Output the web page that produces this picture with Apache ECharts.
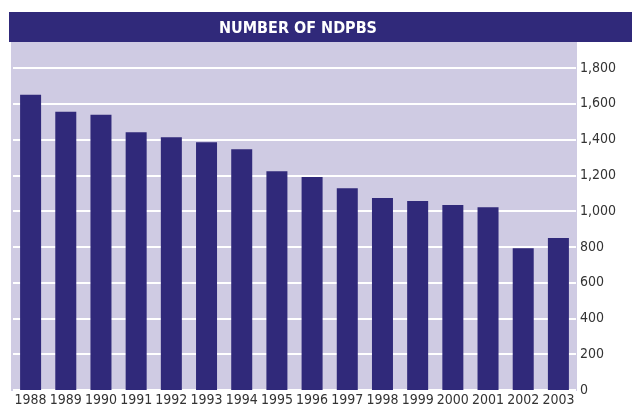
<!DOCTYPE html>
<html>
<head>
<meta charset="utf-8">
<script src="https://cdn.jsdelivr.net/npm/echarts@6/dist/echarts.min.js"></script>
<style>
  html, body { margin: 0; padding: 0; background: #fff; }
  #chart { width: 632px; height: 408px; }
</style>
</head>
<body>
<div id="chart"></div>
<script>
// Number of NDPBs by year
const YEARS = ['1988', '1989', '1990', '1991', '1992', '1993', '1994', '1995',
  '1996', '1997', '1998', '1999', '2000', '2001', '2002', '2003'];
const NDPB_COUNTS = [1650, 1555, 1539, 1441, 1413, 1385, 1346, 1223,
  1190, 1128, 1073, 1056, 1034, 1022, 793, 849];
const TITLE = 'NUMBER OF NDPBS';

const NAVY = '#30297a';
const LAVENDER = '#cfcbe3';
// narrowest face we have: DejaVu Sans Condensed
const FONT = '"DejaVu Sans Condensed", "DejaVu Sans", sans-serif';

const chart = echarts.init(document.getElementById('chart'), null, { renderer: 'canvas' });
chart.setOption({
  animation: false,
  backgroundColor: '#fff',
  title: {
    text: TITLE,
    left: 293,
    textAlign: 'center',
    top: 16,
    textStyle: { color: '#fff', fontFamily: FONT, fontWeight: 'bold', fontSize: 16 },
  },
  graphic: [
    { type: 'rect', z: -10, silent: true, shape: { x: 9, y: 12, width: 623, height: 30 }, style: { fill: NAVY } },
    { type: 'rect', z: -10, silent: true, shape: { x: 11, y: 42, width: 566, height: 349 }, style: { fill: LAVENDER } },
  ],
  grid: { left: 13, right: 56, top: 68, bottom: 18, containLabel: false },
  xAxis: {
    type: 'category',
    data: YEARS,
    axisLine: { show: false },
    axisTick: { show: false },
    axisLabel: { color: '#333', fontFamily: FONT, fontSize: 14, margin: 3, interval: 0 },
  },
  yAxis: {
    type: 'value',
    position: 'right',
    min: 0,
    max: 1800,
    interval: 200,
    axisLine: { show: false },
    axisTick: { show: false },
    splitLine: { lineStyle: { color: '#fff', width: 2 } },
    axisLabel: {
      color: '#333', fontFamily: FONT, fontSize: 14, margin: 4,
      formatter: v => v.toLocaleString('en-US'),
    },
  },
  series: [{
    type: 'bar',
    data: NDPB_COUNTS,
    barWidth: 21,
    itemStyle: { color: NAVY },
  }],
});
</script>
</body>
</html>
